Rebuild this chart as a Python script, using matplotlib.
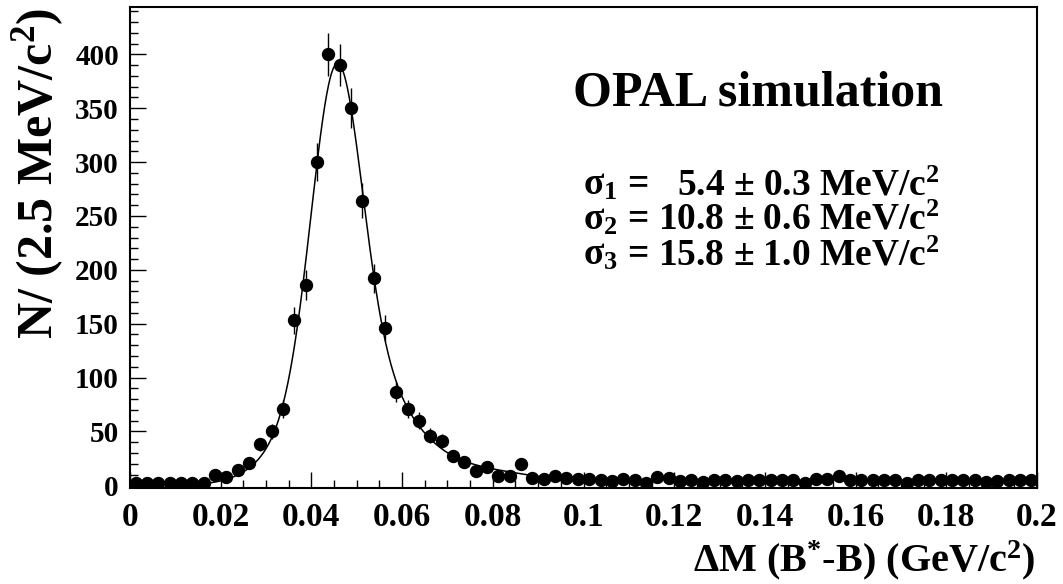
import numpy as np
import matplotlib
matplotlib.use("Agg")
import matplotlib.pyplot as plt
from matplotlib.ticker import MultipleLocator

# Histogram: counts per 2.5 MeV bin (bin width 0.0025 GeV), 0 .. 0.2 GeV
bin_width = 0.0025
counts = [2, 2, 2, 2, 2, 2, 2, 10, 8, 14, 21, 38, 50, 71, 153, 186, 300, 400, 390, 350,
          264, 192, 146, 87, 71, 60, 46, 41, 27, 22, 13, 17, 9, 9, 20, 7, 6, 9, 7, 6,
          6, 5, 4, 6, 5, 2, 8, 7, 4, 5, 3, 5, 5, 4, 5, 5, 5, 5, 5, 2,
          6, 6, 9, 5, 5, 5, 5, 5, 2, 5, 5, 5, 5, 5, 5, 3, 4, 5, 5, 5]

# Triple-Gaussian fit drawn over the data
fit_means = [0.0455, 0.0480, 0.0720]
fit_amps = [273.6, 116.9, 15.7]
fit_sigmas = [0.0054, 0.0108, 0.0158]
fit_range = [0.0165, 0.100]

xtick_vals = [0, 0.02, 0.04, 0.06, 0.08, 0.1, 0.12, 0.14, 0.16, 0.18, 0.2]
xtick_labels = ['0', '0.02', '0.04', '0.06', '0.08', '0.1', '0.12', '0.14', '0.16', '0.18', '0.2']

plt.rcParams['font.family'] = ['Liberation Serif', 'DejaVu Serif']
plt.rcParams['font.weight'] = 'bold'
plt.rcParams['mathtext.fontset'] = 'custom'
plt.rcParams['mathtext.rm'] = 'Liberation Serif:bold'
plt.rcParams['mathtext.bf'] = 'Liberation Serif:bold'
plt.rcParams['mathtext.it'] = 'Liberation Serif:bold:italic'

W, H = 1063, 584
fig = plt.figure(figsize=(W / 100, H / 100), dpi=100)
ax = fig.add_axes([130 / W, 1 - 488 / H, (1037 - 130) / W, (488 - 7) / H])

centers = (np.arange(len(counts)) + 0.5) * bin_width
cnt = np.array(counts, dtype=float)
ax.errorbar(centers, cnt, yerr=np.sqrt(cnt), fmt='o', color='black', ms=8.6,
            elinewidth=1.0, capsize=0, zorder=3)

xx = np.linspace(fit_range[0], fit_range[1], 800)
yy = sum(a * np.exp(-0.5 * ((xx - m) / s) ** 2) for a, m, s in zip(fit_amps, fit_means, fit_sigmas))
ax.plot(xx, yy, color='black', lw=1.1, zorder=2)

ax.set_xlim(0, 0.2)
ax.set_ylim(-2.5, 444)
ax.set_xticks(xtick_vals)
ax.set_xticklabels(xtick_labels)
ax.xaxis.set_minor_locator(MultipleLocator(0.005))
ax.yaxis.set_major_locator(MultipleLocator(50))
ax.yaxis.set_minor_locator(MultipleLocator(10))
ax.tick_params(which='both', direction='in', top=False, right=False, width=1.0)
ax.tick_params(which='major', length=11.5)
ax.tick_params(which='minor', length=5.8)
ax.tick_params(axis='x', labelsize=24, pad=10)
ax.tick_params(axis='y', labelsize=21, pad=8)
for sp in ax.spines.values():
    sp.set_linewidth(1.5)

fig.text(38 / W, 1 - 8 / H, 'N/ (2.5 MeV/c$^{2}$)', rotation=90, ha='center', va='top',
         fontsize=36, fontweight='bold')
fig.text(1035 / W, 1 - 582 / H, 'ΔM (B$^{*}$-B) (GeV/c$^{2}$)', ha='right', va='bottom',
         fontsize=29, fontweight='bold')

fig.text(573 / W, 1 - 105 / H, 'OPAL simulation', ha='left', va='baseline', fontsize=36,
         fontweight='bold')
labels_l = ['σ$_{1}$ =', 'σ$_{2}$ =', 'σ$_{3}$ =']
labels_r = ['5.4 ± 0.3 MeV/c$^{2}$', '10.8 ± 0.6 MeV/c$^{2}$', '15.8 ± 1.0 MeV/c$^{2}$']
for k, (l, rr) in enumerate(zip(labels_l, labels_r)):
    yb = 1 - (195 + 35 * k) / H
    fig.text(583 / W, yb, l, ha='left', va='baseline', fontsize=27, fontweight='bold')
    fig.text(940 / W, yb, rr, ha='right', va='baseline', fontsize=27, fontweight='bold')

fig.savefig('out.png', dpi=100)
